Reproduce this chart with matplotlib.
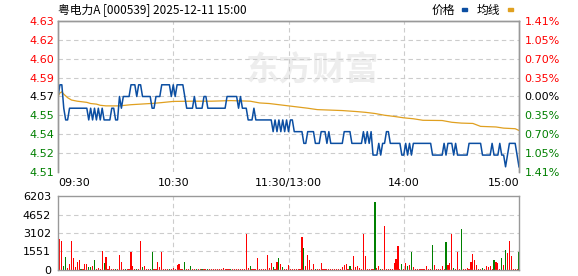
import numpy as np
import matplotlib
matplotlib.use("Agg")
import matplotlib.pyplot as plt
from matplotlib.patches import Rectangle

plt.rcParams['font.family'] = ['DejaVu Sans', 'Noto Sans CJK SC']

title = "粤电力A [000539] 2025-12-11 15:00"
prev_close = 4.57
price_ticks = [4.63, 4.62, 4.60, 4.59, 4.57, 4.55, 4.54, 4.52, 4.51]
pct_ticks = ["1.41%", "1.05%", "0.70%", "0.35%", "0.00%", "0.35%", "0.70%", "1.05%", "1.41%"]
vol_ticks = [0, 1551, 3102, 4652, 6203]
time_labels = ["09:30", "10:30", "11:30/13:00", "14:00", "15:00"]

# minute price, 241 points (09:30 .. 15:00)
price = [
    4.57, 4.58, 4.58, 4.56, 4.55, 4.55, 4.56, 4.56, 4.56, 4.56,
    4.56, 4.56, 4.56, 4.56, 4.56, 4.56, 4.55, 4.56, 4.55, 4.56,
    4.55, 4.56, 4.55, 4.56, 4.55, 4.55, 4.55, 4.55, 4.56, 4.56,
    4.55, 4.55, 4.57, 4.56, 4.57, 4.57, 4.57, 4.57, 4.58, 4.58,
    4.58, 4.57, 4.58, 4.58, 4.57, 4.57, 4.57, 4.57, 4.57, 4.56,
    4.56, 4.57, 4.57, 4.57, 4.58, 4.58, 4.58, 4.58, 4.58, 4.57,
    4.58, 4.57, 4.58, 4.58, 4.58, 4.58, 4.57, 4.56, 4.56, 4.56,
    4.56, 4.57, 4.56, 4.56, 4.56, 4.56, 4.57, 4.57, 4.56, 4.56,
    4.56, 4.56, 4.56, 4.56, 4.56, 4.56, 4.56, 4.56, 4.57, 4.57,
    4.57, 4.57, 4.57, 4.57, 4.56, 4.57, 4.56, 4.56, 4.56, 4.55,
    4.55, 4.55, 4.56, 4.55, 4.55, 4.55, 4.55, 4.55, 4.55, 4.55,
    4.55, 4.55, 4.54, 4.55, 4.54, 4.55, 4.54, 4.55, 4.54, 4.55,
    4.54, 4.55, 4.55, 4.54, 4.54, 4.54, 4.54, 4.54, 4.53, 4.53,
    4.54, 4.54, 4.54, 4.54, 4.53, 4.53, 4.53, 4.54, 4.54, 4.54,
    4.53, 4.54, 4.53, 4.53, 4.53, 4.53, 4.53, 4.53, 4.53, 4.54,
    4.54, 4.54, 4.54, 4.53, 4.53, 4.53, 4.53, 4.53, 4.53, 4.54,
    4.53, 4.54, 4.53, 4.54, 4.52, 4.52, 4.52, 4.53, 4.52, 4.53,
    4.53, 4.54, 4.54, 4.53, 4.53, 4.53, 4.53, 4.53, 4.53, 4.52,
    4.52, 4.53, 4.52, 4.53, 4.52, 4.53, 4.53, 4.53, 4.53, 4.53,
    4.53, 4.53, 4.53, 4.53, 4.53, 4.52, 4.52, 4.52, 4.52, 4.52,
    4.52, 4.53, 4.52, 4.53, 4.53, 4.53, 4.52, 4.53, 4.52, 4.52,
    4.52, 4.52, 4.52, 4.52, 4.53, 4.53, 4.53, 4.53, 4.53, 4.53,
    4.53, 4.52, 4.52, 4.52, 4.52, 4.52, 4.53, 4.52, 4.52, 4.52,
    4.53, 4.52, 4.52, 4.51, 4.52, 4.53, 4.53, 4.53, 4.53, 4.52,
    4.51,
]

# average line, read at these minutes
avg_min = [0, 1, 2, 3, 5, 7, 10, 15, 17, 20, 22, 25, 32, 35, 38, 43, 50, 54, 60, 70,
           80, 90, 100, 105, 110, 115, 120, 125, 130, 135, 140, 148, 155, 160, 165, 170,
           175, 180, 185, 190, 200, 205, 210, 216, 220, 228, 232, 238, 240]
avg_val = [4.570, 4.573, 4.574, 4.572, 4.569, 4.567, 4.566, 4.565, 4.564, 4.5635, 4.5625,
           4.562, 4.562, 4.5625, 4.563, 4.5635, 4.5642, 4.5648, 4.5658, 4.566,
           4.566, 4.5665, 4.566, 4.5645, 4.564, 4.563, 4.562, 4.561, 4.560, 4.5588,
           4.5585, 4.558, 4.5572, 4.5565, 4.5555, 4.554, 4.553, 4.5518, 4.551, 4.5497,
           4.5495, 4.548, 4.5473, 4.547, 4.5445, 4.544, 4.543, 4.5425, 4.541]

volume = [
    300, 2600, 2450, 330, 1100, 170, 500, 2430, 1000, 250,
    650, 800, 80, 80, 480, 480, 250, 250, 330, 840,
    120, 170, 80, 1600, 590, 1090, 80, 335, 80, 80,
    80, 80, 1260, 670, 80, 80, 80, 80, 1510, 335,
    80, 80, 80, 2430, 250, 335, 80, 80, 80, 1510,
    80, 80, 670, 250, 1510, 80, 80, 80, 80, 80,
    170, 80, 420, 500, 80, 80, 670, 80, 80, 335,
    80, 80, 80, 80, 80, 80, 80, 80, 80, 80,
    80, 80, 80, 80, 80, 80, 200, 80, 80, 80,
    80, 80, 80, 80, 80, 80, 80, 80, 3020, 170,
    335, 80, 80, 80, 1006, 80, 80, 80, 80, 1260,
    170, 590, 250, 80, 670, 1006, 500, 250, 80, 80,
    420, 80, 80, 80, 80, 80, 80, 2770, 1840, 335,
    1260, 840, 80, 500, 80, 80, 80, 590, 80, 80,
    80, 80, 80, 80, 80, 80, 80, 80, 250, 420,
    500, 80, 335, 80, 1170, 250, 335, 170, 80, 3020,
    1170, 80, 80, 80, 80, 5700, 170, 335, 80, 80,
    3690, 80, 80, 80, 80, 590, 920, 2010, 80, 500,
    80, 590, 335, 420, 1510, 250, 80, 80, 80, 80,
    80, 80, 335, 80, 80, 2100, 420, 80, 80, 80,
    335, 80, 2350, 420, 590, 3020, 170, 80, 1510, 80,
    3440, 80, 80, 170, 80, 670, 1340, 840, 420, 80,
    80, 170, 80, 335, 250, 335, 80, 840, 670, 590,
    80, 1006, 420, 1680, 1425, 2430, 1170, 80, 80, 80,
    1510,
]
# r = up, g = down
vol_dir = list(
    "rrrggrrrrr" "rrgrrrggrg" "rrrrgrrrrr" "grrrrgrrrr" "rgrrgrrrgg"
    "rrrrrrrrgr" "rrrrrrgrrg" "rrgrrgrrgr" "rrrrrrrrrr" "grrrrrrrrr"
    "grrrrrrrrr" "rrgrrgrgrr" "rrrrrrrrgr" "rrrrgrrrrr" "rrrrrrrrrr"
    "rrgrrrrrrr" "rrrrrgrrgr" "rrrrrrrrrg" "rrgrgrrrrr" "rrrrrgrrrr"
    "rrgrrrgrrr" "grrrrrrrrr" "rgrrrrrgrr" "rgrgrrrrrr" "g"
)

x = np.arange(len(price))
fig = plt.figure(figsize=(5.78, 2.76), dpi=100)
ax = fig.add_axes([58 / 578, 1 - 172 / 276, 461 / 578, 151 / 276])
axv = fig.add_axes([58 / 578, 1 - 270 / 276, 461 / 578, 74 / 276])

grid_kw = dict(color='#cccccc', lw=0.8, ls=(0, (4, 3)), zorder=0)
lo = prev_close * (1 - 0.0141)
hi = prev_close * (1 + 0.0141)
tick_pos = np.linspace(hi, lo, 9)

ax.text(0.55, 0.67, "东方财富", transform=ax.transAxes, ha='center', va='center',
        fontsize=24, fontweight='bold', color='#ededed', family=['Noto Sans CJK SC'], zorder=0)
for t in tick_pos[1:-1]:
    ax.axhline(t, **grid_kw)
for m in [60, 120, 180]:
    ax.axvline(m, **grid_kw)
    axv.axvline(m, **grid_kw)

ax.plot(avg_min, avg_val, color='#e0a020', lw=0.9, zorder=2)
ax.plot(x, price, color='#0b4ea2', lw=1.1, zorder=3)
ax.set_xlim(0, 240)
ax.set_ylim(lo, hi)

ax.set_yticks(tick_pos)
ax.set_yticklabels([f"{p:.2f}" for p in price_ticks], fontsize=8)
colors = ['#ff0000'] * 4 + ['#000000'] + ['#008000'] * 4
for lab, c in zip(ax.get_yticklabels(), colors):
    lab.set_color(c)
ax.tick_params(axis='y', length=0, pad=3)

axr = ax.twinx()
axr.set_ylim(lo, hi)
axr.set_yticks(tick_pos)
axr.set_yticklabels(pct_ticks, fontsize=8)
for lab, c in zip(axr.get_yticklabels(), colors):
    lab.set_color(c)
axr.tick_params(axis='y', length=0, pad=4)

ax.set_xticks([0, 60, 120, 180, 240])
ax.set_xticklabels(time_labels, fontsize=8)
ax.tick_params(axis='x', length=0, pad=4)
xl = ax.get_xticklabels()
xl[0].set_ha('left')
xl[-1].set_ha('right')

for a in (ax, axr):
    for s in a.spines.values():
        s.set_color('#999999')
        s.set_linewidth(1.0)
    a.spines['bottom'].set_visible(False)

bar_colors = ['#ff0000' if d == 'r' else '#008000' for d in vol_dir]
for t in vol_ticks[1:-1]:
    axv.axhline(t, **grid_kw)
axv.bar(x, volume, width=0.6, color=bar_colors, edgecolor='none', linewidth=0,
        antialiased=False, zorder=2)
axv.set_xlim(0, 240)
axv.set_ylim(0, 6203)
axv.set_yticks(vol_ticks)
axv.set_yticklabels([str(v) for v in vol_ticks], fontsize=8)
axv.tick_params(axis='y', length=0, pad=5)
axv.set_xticks([])
for s in axv.spines.values():
    s.set_color('#999999')
    s.set_linewidth(1.0)

fig.text(58 / 578, 1 - 10 / 276, title, fontsize=8.5, va='center', ha='left',
         family=['Noto Sans CJK SC', 'DejaVu Sans'])
fig.text(432 / 578, 1 - 10 / 276, "价格", fontsize=8.5, va='center', ha='left',
         family=['Noto Sans CJK SC'])
fig.text(477 / 578, 1 - 10 / 276, "均线", fontsize=8.5, va='center', ha='left',
         family=['Noto Sans CJK SC'])
fig.add_artist(Rectangle((462 / 578, 1 - 11 / 276), 5 / 578, 3 / 276,
                         transform=fig.transFigure, color='#0b4ea2'))
fig.add_artist(Rectangle((508 / 578, 1 - 11 / 276), 5 / 578, 3 / 276,
                         transform=fig.transFigure, color='#e0a020'))

fig.savefig("out.png", dpi=100)
